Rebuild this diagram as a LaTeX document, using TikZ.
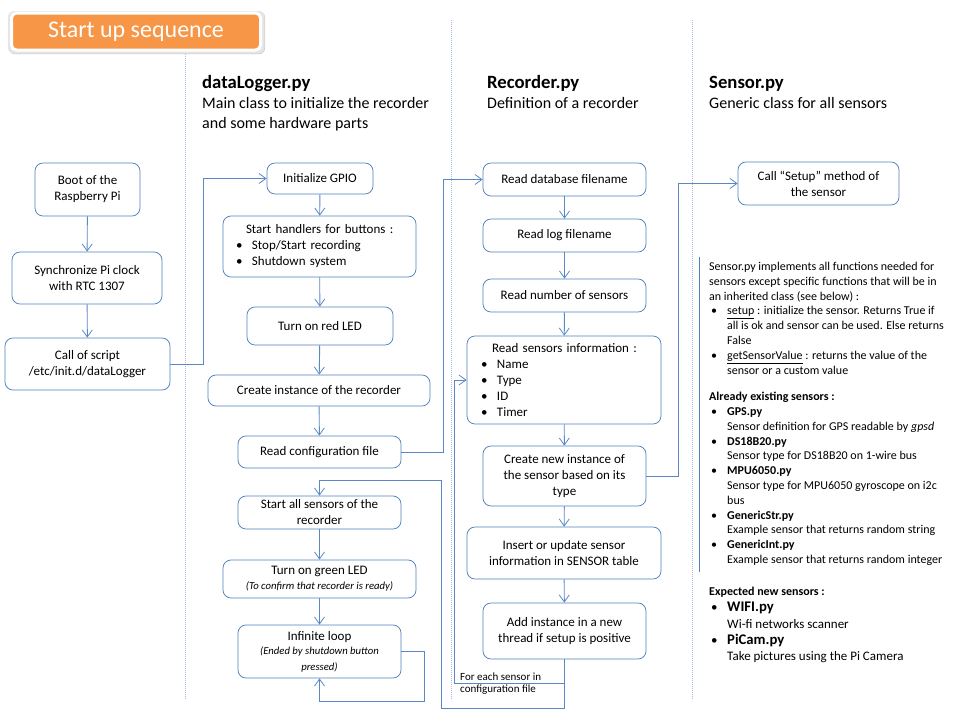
\documentclass[tikz,border=0pt]{standalone}
\usepackage{fontspec}
\setmainfont{Carlito}
\usetikzlibrary{arrows.meta,shadows,calc}
\definecolor{boxblue}{HTML}{4F81BD}
\definecolor{lineblue}{HTML}{5B87C5}
\definecolor{sepblue}{HTML}{A7BFDE}
\definecolor{orangefill}{HTML}{F79646}
\newcommand{\sidebul}{\hspace*{2pt}\makebox[16pt][l]{\textbullet}}
\newcommand{\sideind}{\hspace*{18pt}}
\newcommand{\boxbul}{\makebox[16pt][l]{\textbullet}}
\begin{document}
\begin{tikzpicture}[x=1pt,y=-1pt,
  box/.style={draw=boxblue, line width=0.75pt, rounded corners=8pt, fill=white, align=center,
    font=\fontsize{13}{16}\selectfont, inner sep=2pt},
  conn/.style={draw=lineblue, line width=0.9pt, -{Straight Barb[length=7pt,width=10pt,line width=0.8pt]}},
  sep/.style={draw=sepblue, line width=0.7pt, dash pattern=on 1pt off 1pt},
  hdr/.style={font=\fontsize{18.7}{22}\selectfont\bfseries, anchor=base west, inner sep=0pt},
  sub/.style={font=\fontsize{16}{20}\selectfont, anchor=base west, inner sep=0pt},
  side/.style={font=\fontsize{12}{14.8}\selectfont, align=left, anchor=north west, inner sep=0pt},
]
\useasboundingbox (0,0) rectangle (960,720);

% separators
\draw[sep] (185,52) -- (185,700);
\draw[sep] (451,20) -- (451,700);
\draw[sep] (692,20) -- (692,700);

% title
\fill[black!22, rounded corners=6pt] (8.5,11.5) rectangle (265,54);
\fill[black!10, rounded corners=6pt] (8,11) rectangle (264.5,53.5);
\node[fill=orangefill, draw=white, line width=3pt, rounded corners=5pt,
  minimum width=249pt, minimum height=37pt, text=white,
  font=\fontsize{24}{28}\selectfont] (title) at (136,31.5) {Start up sequence};

% headers
\node[hdr] (h1) at (202,88) {dataLogger.py};
\node[sub] (h1a) at (202,108) {Main class to initialize the recorder};
\node[sub] (h1b) at (202,128) {and some hardware parts};
\node[hdr] (h2) at (487,88) {Recorder.py};
\node[sub] (h2a) at (487,108) {Definition of a recorder};
\node[hdr] (h3) at (709,88) {Sensor.py};
\node[sub] (h3a) at (709,108) {Generic class for all sensors};

% left column
\node[box, minimum width=105pt, minimum height=53pt] (boot) at (87.5,189.5) {Boot of the\\Raspberry Pi};
\node[box, minimum width=150pt, minimum height=52pt] (sync) at (87,278) {Synchronize Pi clock\\with RTC 1307};
\node[box, minimum width=165pt, minimum height=52pt] (call) at (87.5,364) {Call of script\\/etc/init.d/dataLogger};

% dataLogger column
\node[box, minimum width=106pt, minimum height=31pt] (gpio) at (320,178.5) {Initialize GPIO};
\node[box, minimum width=193pt, minimum height=61pt, align=left, text width=185pt] (handlers) at (319.5,246.5)
  {\hspace*{19pt}Start handlers for buttons :\\ \hspace*{9pt}\boxbul Stop/Start recording\\ \hspace*{9pt}\boxbul Shutdown system};
\node[box, minimum width=146pt, minimum height=38pt] (red) at (320,326) {Turn on red LED};
\node[box, minimum width=222pt, minimum height=31pt] (create) at (319,390.5) {Create instance of the recorder};
\node[box, minimum width=163pt, minimum height=32pt] (config) at (319.5,452) {Read configuration file};
\node[box, minimum width=163pt, minimum height=33pt] (startall) at (319.5,512.5) {Start all sensors of the\\recorder};
\node[box, minimum width=193pt, minimum height=38pt] (green) at (319.5,579)
  {Turn on green LED\\[-1pt]\fontsize{10.7}{13}\selectfont\itshape (To confirm that recorder is ready)};
\node[box, minimum width=163pt, minimum height=53pt] (loop) at (319.5,651.5)
  {Infinite loop\\[-2pt]\fontsize{10.7}{13}\selectfont\itshape (Ended by shutdown button\\ \fontsize{10.7}{13}\selectfont\itshape pressed)};

% Recorder column
\node[box, minimum width=163pt, minimum height=33pt] (db) at (564.5,179.5) {Read database filename};
\node[box, minimum width=163pt, minimum height=33pt] (log) at (564.5,235.5) {Read log filename};
\node[box, minimum width=163pt, minimum height=33pt] (num) at (564.5,295.5) {Read number of sensors};
\node[box, minimum width=194pt, minimum height=88pt, align=left, text width=186pt] (info) at (564,380)
  {\hspace*{21pt}Read sensors information :\\ \hspace*{10pt}\boxbul Name\\ \hspace*{10pt}\boxbul Type\\ \hspace*{10pt}\boxbul ID\\ \hspace*{10pt}\boxbul Timer};
\node[box, minimum width=163pt, minimum height=60pt] (newinst) at (564.5,476) {Create new instance of\\the sensor based on its\\type};
\node[box, minimum width=194pt, minimum height=52pt] (insert) at (564,553) {Insert or update sensor\\information in SENSOR table};
\node[box, minimum width=163pt, minimum height=56pt] (add) at (564.5,631) {Add instance in a new\\thread if setup is positive};

% Sensor column
\node[box, minimum width=161pt, minimum height=43pt] (setup) at (818.5,183.5) {Call “Setup” method of\\the sensor};

% side text
\draw[draw=boxblue, line width=0.8pt] (699,257) -- (699,572);
\node[side] (sidea) at (709,262) {Sensor.py implements all functions needed for\\
sensors except specific functions that will be in\\
an inherited class (see below) :\\
\sidebul\underline{setup} : initialize the sensor. Returns True if\\
\sideind all is ok and sensor can be used. Else returns\\
\sideind False\\
\sidebul\underline{getSensorValue} : returns the value of the\\
\sideind sensor or a custom value};
\node[side] (sideb) at (709,392) {\textbf{Already existing sensors :}\\
\sidebul\textbf{GPS.py}\\
\sideind Sensor definition for GPS readable by \textit{gpsd}\\
\sidebul\textbf{DS18B20.py}\\
\sideind Sensor type for DS18B20 on 1-wire bus\\
\sidebul\textbf{MPU6050.py}\\
\sideind Sensor type for MPU6050 gyroscope on i2c\\
\sideind bus\\
\sidebul\textbf{GenericStr.py}\\
\sideind Example sensor that returns random string\\
\sidebul\textbf{GenericInt.py}\\
\sideind Example sensor that returns random integer};
\node[side, font=\fontsize{13}{16.3}\selectfont] (sidec) at (709,587) {{\fontsize{12}{14.8}\selectfont\textbf{Expected new sensors :}}\\
\sidebul{\fontsize{14.7}{16}\selectfont\textbf{WIFI.py}}\\
\sideind Wi-fi networks scanner\\
\sidebul{\fontsize{14.7}{16}\selectfont\textbf{PiCam.py}}\\
\sideind Take pictures using the Pi Camera};

% loop label
\node[font=\fontsize{11}{12.5}\selectfont, align=left, anchor=west, inner sep=0pt] (looplbl) at (460,683.5) {For each sensor in\\configuration file};

% connectors
\draw[conn] (boot) -- (sync);
\draw[conn] (sync) -- (call);
\draw[conn] (call.east) -- ++(33,0) |- (gpio.west);
\draw[conn] (gpio) -- (handlers);
\draw[conn] (handlers) -- (red);
\draw[conn] (red) -- (create);
\draw[conn] (create) -- (config);
\draw[conn] (config.east) -- ++(42,0) |- (db.west);
\draw[conn] (db) -- (log);
\draw[conn] (log) -- (num);
\draw[conn] (num) -- (info);
\draw[conn] (info) -- (newinst);
\draw[conn] (newinst) -- (insert);
\draw[conn] (insert) -- (add);
\draw[conn] (add.south) -- ++(0,24) -| ([xshift=-12pt]info.west) -- (info.west);
\coordinate (backturn) at (441,480);
\draw[conn] (add.south) -- ++(0,49) -| (backturn) -| (startall.north);
\draw[conn] (newinst.east) -- ++(32,0) |- (setup.west);
\draw[conn] (startall) -- (green);
\draw[conn] (green) -- (loop);
\draw[conn] (loop.east) -- ++(23,0) -- ++(0,49.5) -| (loop.south);
\end{tikzpicture}
\end{document}
